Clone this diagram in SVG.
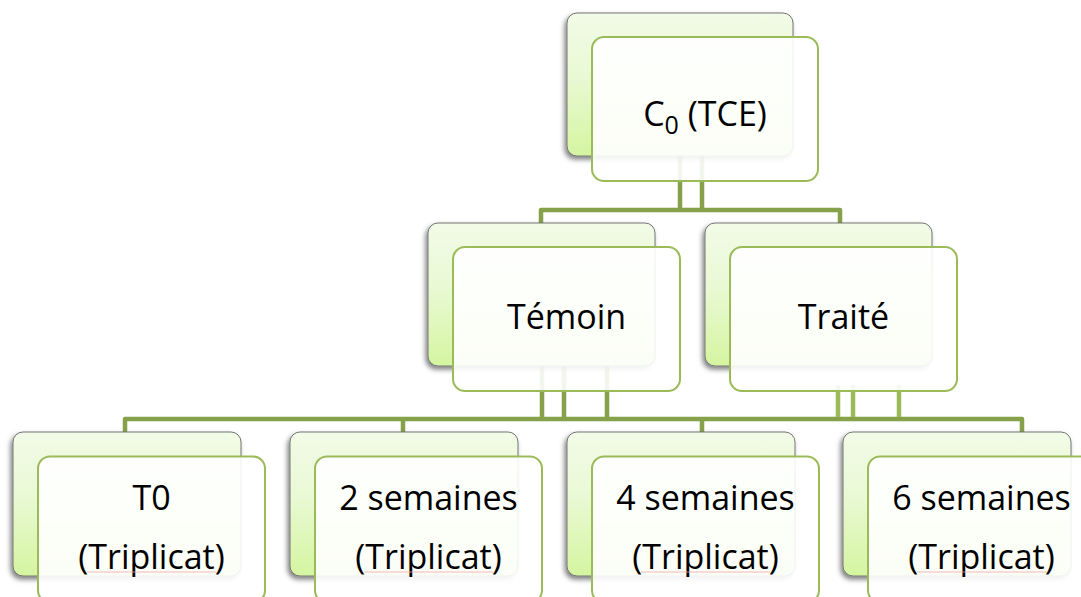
<svg xmlns="http://www.w3.org/2000/svg" width="1081" height="597" viewBox="0 0 1081 597">
<defs>
<linearGradient id="g" x1="0" y1="0" x2="0" y2="1">
<stop offset="0" stop-color="#F2FBE7"/>
<stop offset="0.45" stop-color="#E9F9D4"/>
<stop offset="1" stop-color="#D5F5A0"/>
</linearGradient>
<filter id="sh" x="-10%" y="-10%" width="120%" height="125%">
<feDropShadow dx="-2" dy="3" stdDeviation="2.5" flood-color="#000" flood-opacity="0.5"/>
</filter>
</defs>
<style>
.back{fill:url(#g);stroke:#747474;stroke-width:1;filter:url(#sh)}
.front{fill:#fff;fill-opacity:0.9;stroke:#9BBB59;stroke-width:2}
.c{fill:none;stroke:#85A14A;stroke-width:4.5;stroke-linejoin:round}
.c2{fill:none;stroke:#9BBB59;stroke-width:4.5}
.t{font-family:"Open Sans","Noto Sans",sans-serif;font-size:34px;fill:#000;text-anchor:middle}
.sp{stroke:#F0A8A8;stroke-width:0.8}
</style>
<rect width="1081" height="597" fill="#fff"/>
<g id="connectors">
<path class="c" d="M680,150 V210 M702,150 V210 M541,228 V210 H840 V228"/>
<path class="c" d="M542,360 V419 M564,360 V419 M607,360 V419 M125,434 V419 H1022 V434 M403,419 V434 M702,419 V434"/>
<path class="c2" d="M838,385 V417 M853,385 V417 M899,385 V417"/>
</g>
<g id="node-c0">
<rect class="back" x="567" y="13" width="226" height="143" rx="10"/>
<rect class="front" x="592" y="37" width="226" height="144" rx="12"/>
<text class="t" x="705" y="126">C<tspan font-size="25" dy="8">0</tspan><tspan dy="-8"> (TCE)</tspan></text>
</g>
<g id="node-temoin">
<rect class="back" x="428" y="223" width="227" height="143" rx="10"/>
<rect class="front" x="453" y="247" width="227" height="144" rx="12"/>
<text class="t" x="566.5" y="329">Témoin</text>
</g>
<g id="node-traite">
<rect class="back" x="705" y="223" width="227" height="143" rx="10"/>
<rect class="front" x="730" y="247" width="227" height="144" rx="12"/>
<text class="t" x="843.5" y="329">Traité</text>
</g>
<g id="node-t0">
<rect class="back" x="13" y="432" width="228" height="144" rx="10"/>
<rect class="front" x="38" y="456.5" width="227" height="146" rx="12"/>
<text class="t" x="151.5" y="510">T0</text>
<text class="t" x="151.5" y="569">(Triplicat)</text>
<line class="sp" x1="87" y1="572" x2="216" y2="572"/>
</g>
<g id="node-2s">
<rect class="back" x="290" y="432" width="228" height="144" rx="10"/>
<rect class="front" x="315" y="456.5" width="227" height="146" rx="12"/>
<text class="t" x="428.5" y="510">2 semaines</text>
<text class="t" x="428.5" y="569">(Triplicat)</text>
<line class="sp" x1="364" y1="572" x2="493" y2="572"/>
</g>
<g id="node-4s">
<rect class="back" x="567" y="432" width="228" height="144" rx="10"/>
<rect class="front" x="592" y="456.5" width="227" height="146" rx="12"/>
<text class="t" x="705.5" y="510">4 semaines</text>
<text class="t" x="705.5" y="569">(Triplicat)</text>
<line class="sp" x1="641" y1="572" x2="770" y2="572"/>
</g>
<g id="node-6s">
<rect class="back" x="843" y="432" width="228" height="144" rx="10"/>
<rect class="front" x="868" y="456.5" width="227" height="146" rx="12"/>
<text class="t" x="981.5" y="510">6 semaines</text>
<text class="t" x="981.5" y="569">(Triplicat)</text>
<line class="sp" x1="917" y1="572" x2="1046" y2="572"/>
</g>
</svg>
